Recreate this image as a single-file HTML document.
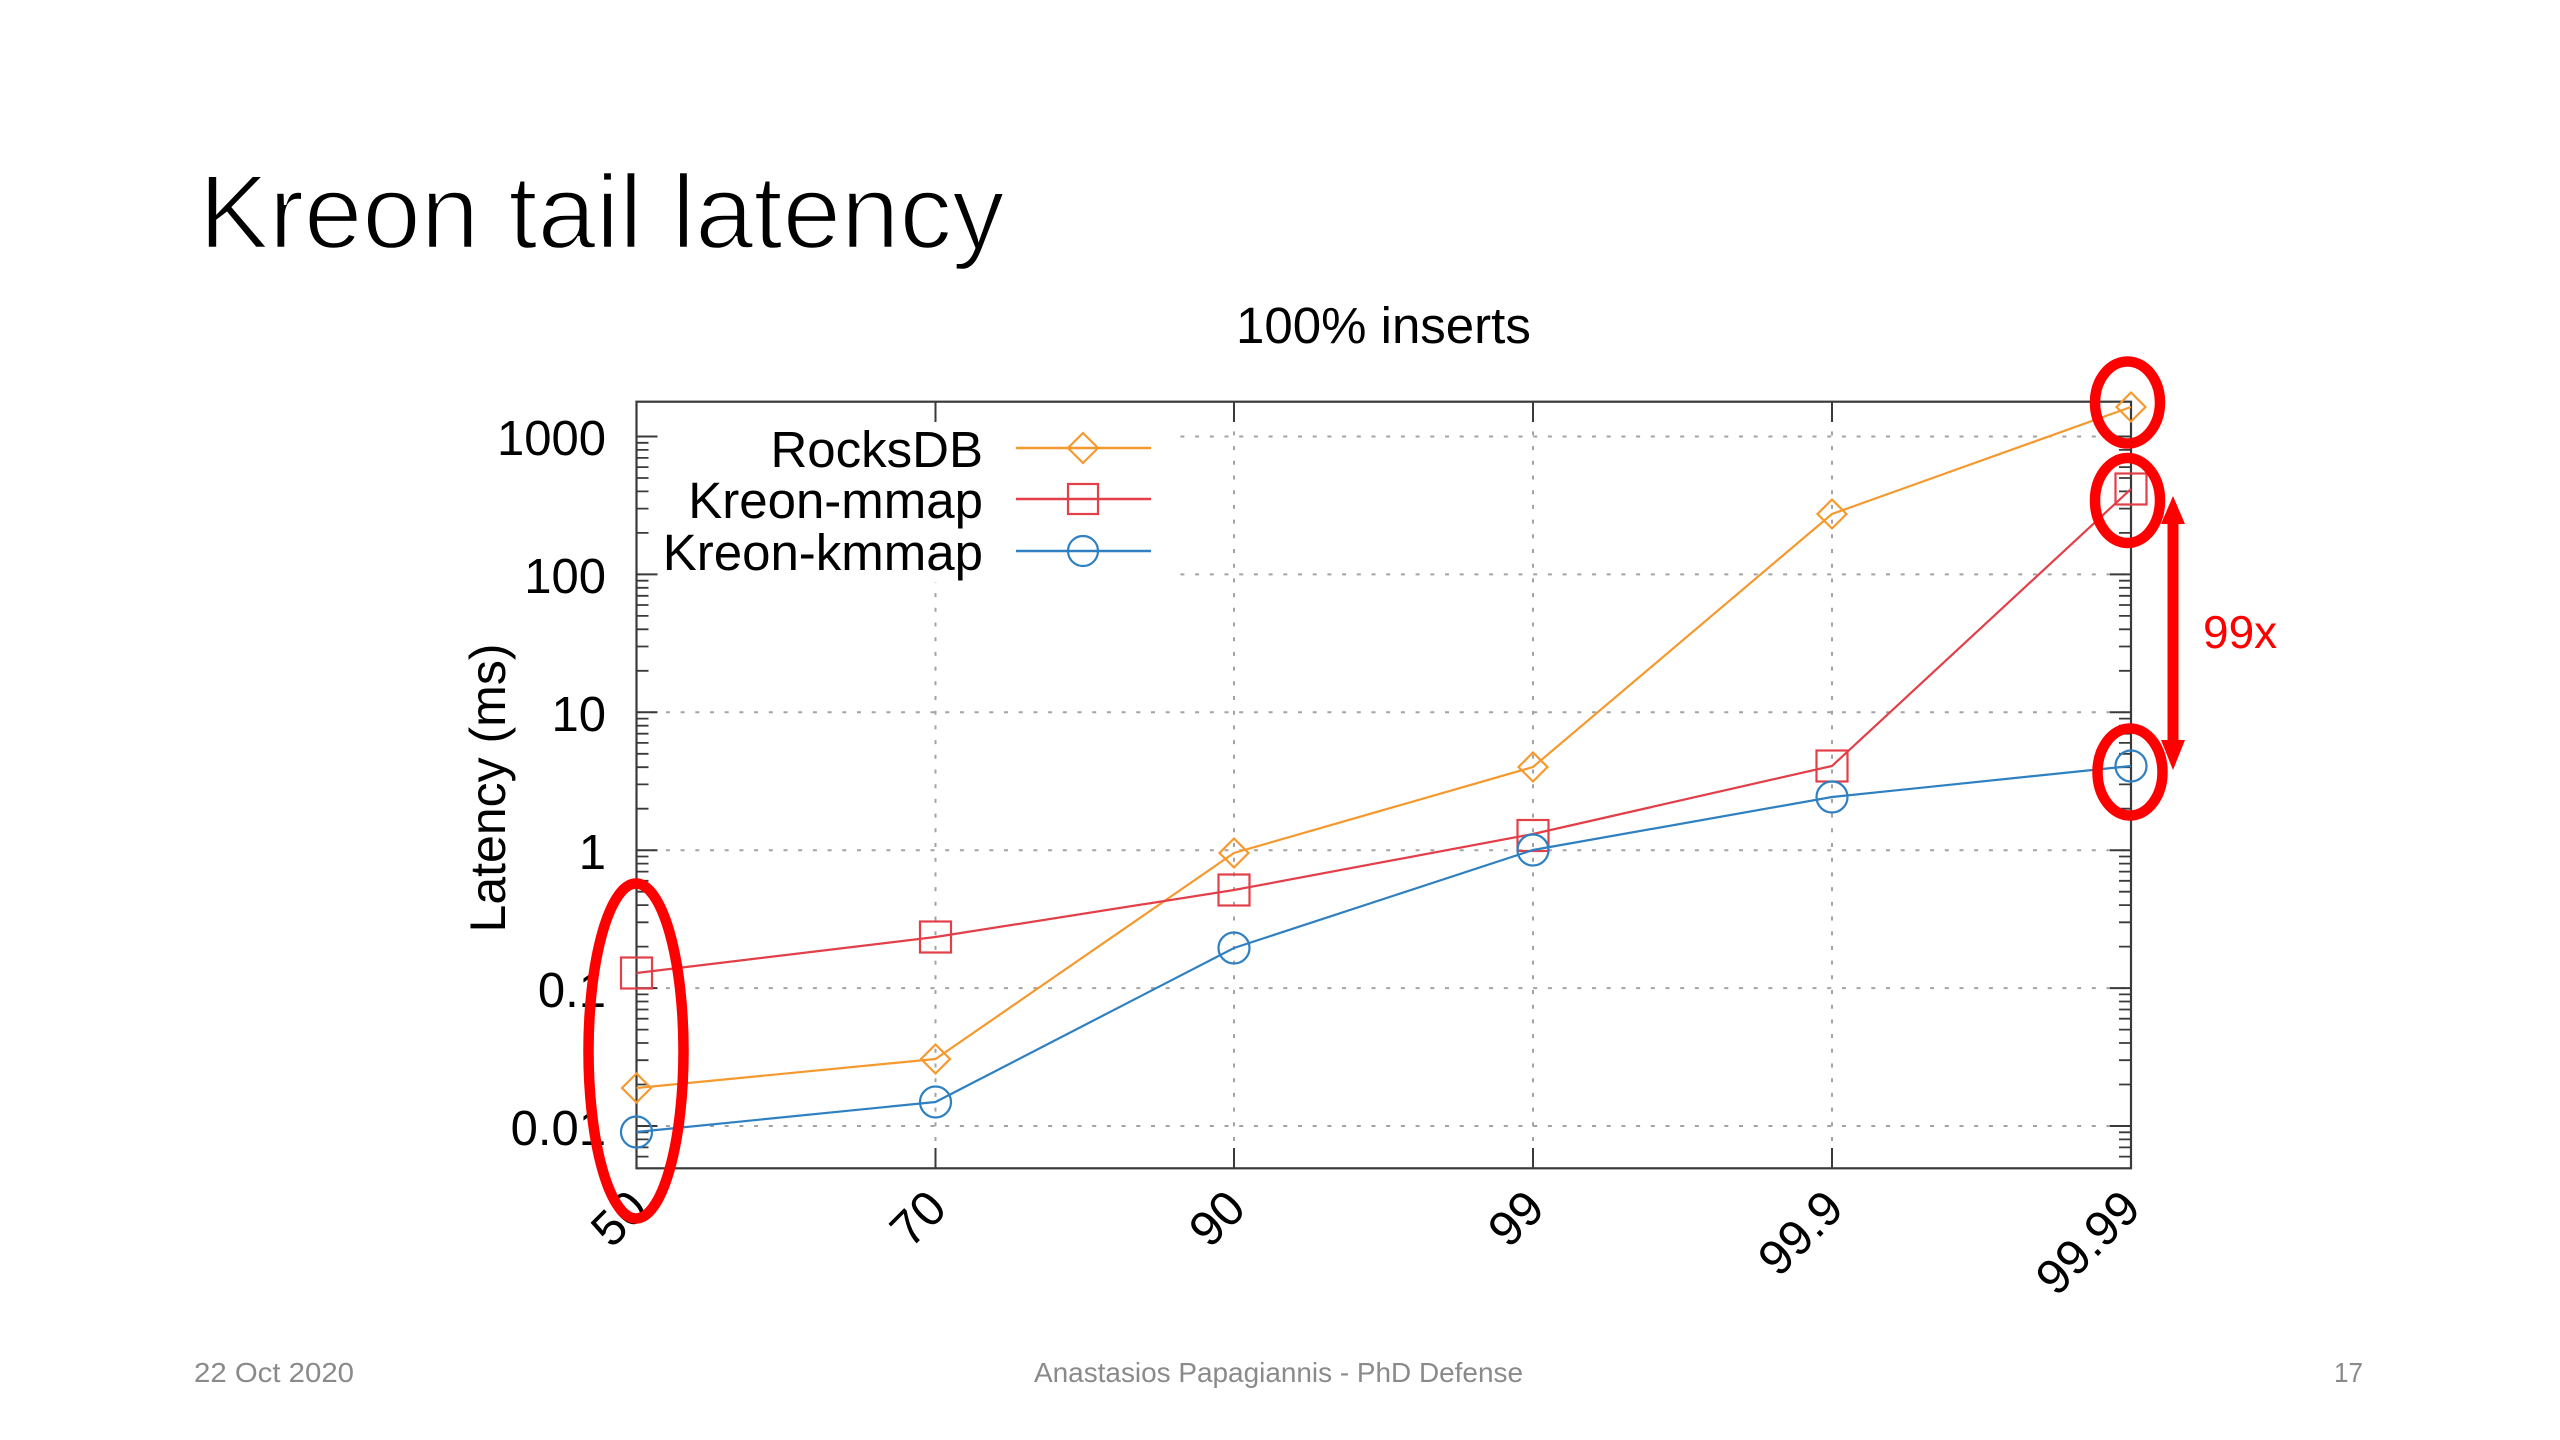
<!DOCTYPE html>
<html>
<head>
<meta charset="utf-8">
<style>
  html, body { margin: 0; padding: 0; background: #ffffff; }
  body { width: 2560px; height: 1440px; overflow: hidden; }
  svg { display: block; }
  text { font-family: "Liberation Sans", Arial, sans-serif; }
</style>
</head>
<body>
<svg width="2560" height="1440" viewBox="0 0 2560 1440" xmlns="http://www.w3.org/2000/svg">
  <rect x="0" y="0" width="2560" height="1440" fill="#ffffff"/>

  <!-- Slide title (white stroke thins the glyphs toward a light weight) -->
  <text x="199" y="248" font-size="105" fill="#000000" stroke="#ffffff" stroke-width="2.4">Kreon tail latency</text>

  <!-- Chart title -->
  <text x="1236" y="343" font-size="51" fill="#000000">100% inserts</text>

  <!-- Grid (dotted) -->
  <g stroke="#a3a3a3" stroke-width="2" stroke-dasharray="4 10.7" fill="none">
    <path d="M636.5 436.5 H2131 M636.5 574.4 H2131 M636.5 712.3 H2131 M636.5 850.2 H2131 M636.5 988.1 H2131 M636.5 1126 H2131"/>
    <path d="M935.5 402 V1168 M1234 402 V1168 M1533 402 V1168 M1832 402 V1168"/>
  </g>

  <!-- Legend opaque box -->
  <rect x="650" y="414" width="528" height="168" fill="#ffffff"/>

  <!-- Frame -->
  <rect x="636.5" y="401.7" width="1494.5" height="766.6" fill="none" stroke="#3a3a3a" stroke-width="2.2"/>

  <!-- Major y ticks -->
  <g stroke="#3a3a3a" stroke-width="2" fill="none">
    <path d="M636.5 436.5 h21 M636.5 574.4 h21 M636.5 712.3 h21 M636.5 850.2 h21 M636.5 988.1 h21 M636.5 1126 h21"/>
    <path d="M2131 436.5 h-21 M2131 574.4 h-21 M2131 712.3 h-21 M2131 850.2 h-21 M2131 988.1 h-21 M2131 1126 h-21"/>
    <!-- x ticks bottom and top -->
    <path d="M935.5 1168 v-20 M1234 1168 v-20 M1533 1168 v-20 M1832 1168 v-20"/>
    <path d="M935.5 402 v20 M1234 402 v20 M1533 402 v20 M1832 402 v20"/>
  </g>

  <!-- Minor y ticks -->
  <g stroke="#3a3a3a" stroke-width="1.8" fill="none">
    <path d="
      M636.5 1156.6 h12 M636.5 1147.4 h12 M636.5 1139.4 h12 M636.5 1132.3 h12
      M636.5 1084.5 h12 M636.5 1060.2 h12 M636.5 1043.0 h12 M636.5 1029.6 h12 M636.5 1018.7 h12 M636.5 1009.5 h12 M636.5 1001.5 h12 M636.5 994.4 h12
      M636.5 946.6 h12 M636.5 922.3 h12 M636.5 905.1 h12 M636.5 891.7 h12 M636.5 880.8 h12 M636.5 871.6 h12 M636.5 863.6 h12 M636.5 856.5 h12
      M636.5 808.7 h12 M636.5 784.4 h12 M636.5 767.2 h12 M636.5 753.8 h12 M636.5 742.9 h12 M636.5 733.7 h12 M636.5 725.7 h12 M636.5 718.6 h12
      M636.5 670.8 h12 M636.5 646.5 h12 M636.5 629.3 h12 M636.5 615.9 h12 M636.5 605.0 h12 M636.5 595.8 h12 M636.5 587.8 h12 M636.5 580.7 h12
      M636.5 532.9 h12 M636.5 508.6 h12 M636.5 491.4 h12 M636.5 478.0 h12 M636.5 467.1 h12 M636.5 457.9 h12 M636.5 449.9 h12 M636.5 442.8 h12
    "/>
    <path d="
      M2131 1156.6 h-12 M2131 1147.4 h-12 M2131 1139.4 h-12 M2131 1132.3 h-12
      M2131 1084.5 h-12 M2131 1060.2 h-12 M2131 1043.0 h-12 M2131 1029.6 h-12 M2131 1018.7 h-12 M2131 1009.5 h-12 M2131 1001.5 h-12 M2131 994.4 h-12
      M2131 946.6 h-12 M2131 922.3 h-12 M2131 905.1 h-12 M2131 891.7 h-12 M2131 880.8 h-12 M2131 871.6 h-12 M2131 863.6 h-12 M2131 856.5 h-12
      M2131 808.7 h-12 M2131 784.4 h-12 M2131 767.2 h-12 M2131 753.8 h-12 M2131 742.9 h-12 M2131 733.7 h-12 M2131 725.7 h-12 M2131 718.6 h-12
      M2131 670.8 h-12 M2131 646.5 h-12 M2131 629.3 h-12 M2131 615.9 h-12 M2131 605.0 h-12 M2131 595.8 h-12 M2131 587.8 h-12 M2131 580.7 h-12
      M2131 532.9 h-12 M2131 508.6 h-12 M2131 491.4 h-12 M2131 478.0 h-12 M2131 467.1 h-12 M2131 457.9 h-12 M2131 449.9 h-12 M2131 442.8 h-12
    "/>
  </g>

  <!-- Y tick labels -->
  <g font-size="49" fill="#000000" text-anchor="end">
    <text x="606" y="455">1000</text>
    <text x="606" y="593">100</text>
    <text x="606" y="731">10</text>
    <text x="606" y="869">1</text>
    <text x="606" y="1007">0.1</text>
    <text x="606" y="1145">0.01</text>
  </g>

  <!-- Y axis label -->
  <text x="0" y="0" font-size="50" fill="#000000" text-anchor="middle" transform="translate(505,788) rotate(-90)">Latency (ms)</text>

  <!-- X tick labels -->
  <g font-size="49" fill="#000000" text-anchor="end">
    <text x="0" y="0" transform="translate(650,1211) rotate(-45)">50</text>
    <text x="0" y="0" transform="translate(949,1211) rotate(-45)">70</text>
    <text x="0" y="0" transform="translate(1248,1211) rotate(-45)">90</text>
    <text x="0" y="0" transform="translate(1547,1211) rotate(-45)">99</text>
    <text x="0" y="0" transform="translate(1846,1211) rotate(-45)">99.9</text>
    <text x="0" y="0" transform="translate(2143,1211) rotate(-45)">99.99</text>
  </g>

  <!-- Legend -->
  <g font-size="51" fill="#000000" text-anchor="end">
    <text x="983" y="467">RocksDB</text>
    <text x="983" y="518">Kreon-mmap</text>
    <text x="983" y="570">Kreon-kmmap</text>
  </g>
  <g fill="none" stroke-width="2.6">
    <path d="M1016 448 H1151" stroke="#f5992f"/>
    <polygon points="1083,433 1098,448 1083,463 1068,448" stroke="#f5992f" stroke-width="2.2"/>
    <path d="M1016 499 H1151" stroke="#e23f49"/>
    <rect x="1068" y="484" width="30" height="30" stroke="#e23f49" stroke-width="2.2"/>
    <path d="M1016 551 H1151" stroke="#2f80c0"/>
    <circle cx="1083" cy="551" r="15" stroke="#2f80c0" stroke-width="2.2"/>
  </g>

  <!-- Series: RocksDB -->
  <g fill="none" stroke="#f5992f" stroke-width="2.2">
    <polyline points="636.5,1088 935.5,1059 1234,853 1533,767 1832,514 2131,407"/>
    <polygon points="636.5,1073.5 651,1088 636.5,1102.5 622,1088"/>
    <polygon points="935.5,1044.5 950,1059 935.5,1073.5 921,1059"/>
    <polygon points="1234,838.5 1248.5,853 1234,867.5 1219.5,853"/>
    <polygon points="1533,752.5 1547.5,767 1533,781.5 1518.5,767"/>
    <polygon points="1832,499.5 1846.5,514 1832,528.5 1817.5,514"/>
    <polygon points="2131,392.5 2145.5,407 2131,421.5 2116.5,407"/>
  </g>

  <!-- Series: Kreon-mmap -->
  <g fill="none" stroke="#e23f49" stroke-width="2.2">
    <polyline points="636.5,973 935.5,937 1234,890 1533,834 1832,766 2131,489"/>
    <rect x="621" y="957.5" width="31" height="31"/>
    <rect x="920" y="921.5" width="31" height="31"/>
    <rect x="1218.5" y="874.5" width="31" height="31"/>
    <rect x="1517.5" y="820" width="31" height="31"/>
    <rect x="1816.5" y="750.5" width="31" height="31"/>
    <rect x="2115.5" y="473.5" width="31" height="31"/>
  </g>

  <!-- Series: Kreon-kmmap -->
  <g fill="none" stroke="#2f80c0" stroke-width="2.2">
    <polyline points="636.5,1132 935.5,1102 1234,948 1533,850 1832,797 2131,766"/>
    <circle cx="636.5" cy="1132" r="15.5"/>
    <circle cx="935.5" cy="1102" r="15.5"/>
    <circle cx="1234" cy="948" r="15.5"/>
    <circle cx="1533" cy="850" r="15.5"/>
    <circle cx="1832" cy="797" r="15.5"/>
    <circle cx="2131" cy="766" r="15.5"/>
  </g>

  <!-- Red annotations -->
  <g fill="none" stroke="#ff0000" stroke-width="10.5">
    <ellipse cx="636" cy="1051" rx="47.5" ry="167.5"/>
    <ellipse cx="2127.5" cy="402.5" rx="32.5" ry="41"/>
    <ellipse cx="2127.5" cy="500.5" rx="32.5" ry="42.5"/>
    <ellipse cx="2130" cy="772" rx="32.5" ry="43.5"/>
  </g>
  <!-- Double-headed arrow -->
  <rect x="2167.5" y="518" width="11" height="226" fill="#ff0000"/>
  <polygon points="2173,496 2185,524 2161,524" fill="#ff0000"/>
  <polygon points="2173,770 2185,740 2161,740" fill="#ff0000"/>
  <text x="2203" y="648" font-size="46" fill="#ff0000">99x</text>

  <!-- Footer -->
  <g font-size="28" fill="#8a8a8a">
    <text x="194" y="1382" textLength="160" lengthAdjust="spacingAndGlyphs">22 Oct 2020</text>
    <text x="1034" y="1382" textLength="489" lengthAdjust="spacingAndGlyphs">Anastasios Papagiannis - PhD Defense</text>
    <text x="2334" y="1382" textLength="29" lengthAdjust="spacingAndGlyphs">17</text>
  </g>
</svg>
</body>
</html>
